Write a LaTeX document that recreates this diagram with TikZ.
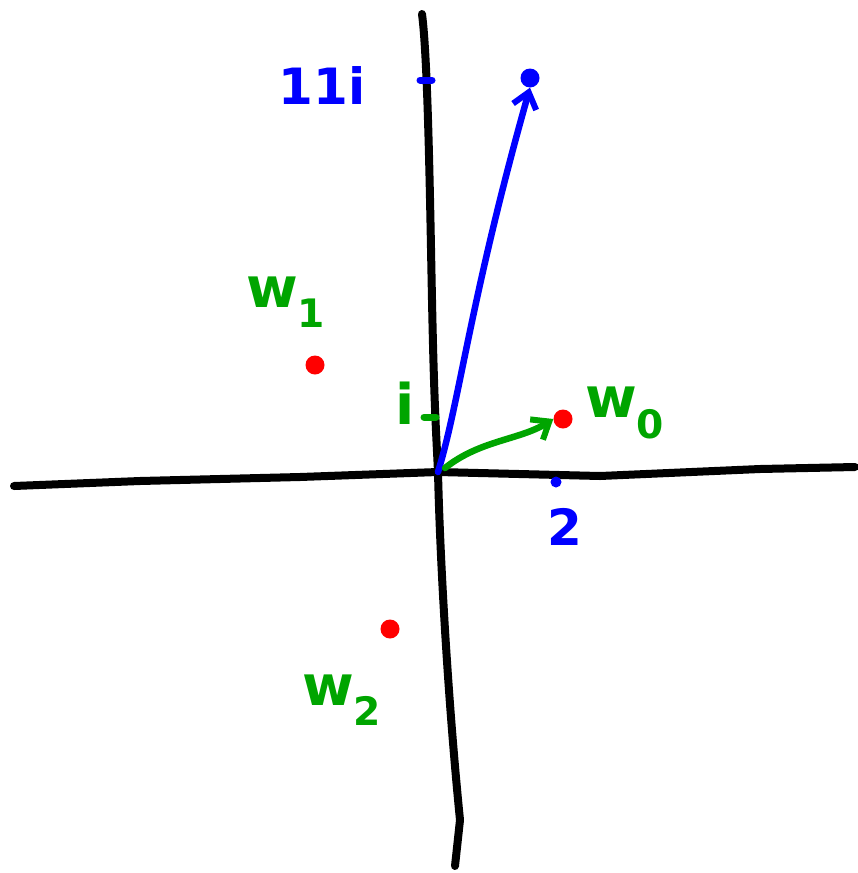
\documentclass[tikz,border=0pt]{standalone}
\usepackage{fontspec}
\setmainfont{DejaVu Sans}
\usetikzlibrary{arrows.meta}
\definecolor{pblue}{RGB}{0,0,255}
\definecolor{pgreen}{RGB}{0,165,0}
\definecolor{pred}{RGB}{255,0,0}
\tikzset{
  axis/.style={line width=8pt, black, line cap=round, line join=round},
  vec/.style={line width=6.5pt, line cap=round, -{Straight Barb[length=15pt,width=24pt,line width=6pt]}},
  pt/.style={circle, fill=pred, inner sep=0pt, minimum size=19pt},
  bluelbl/.style={text=pblue, font=\fontsize{50}{50}\selectfont\bfseries, inner sep=0pt},
  greenlbl/.style={text=pgreen, font=\fontsize{56}{56}\selectfont\bfseries, inner sep=0pt},
  tick/.style={line width=7pt, line cap=round}
}
\begin{document}
\begin{tikzpicture}[x=1pt,y=-1pt]
\useasboundingbox (0,0) rectangle (858,873);
% axes
\coordinate (ytop) at (422,14);
\coordinate (ybot) at (455,866);
\coordinate (xl) at (14,486);
\coordinate (xr) at (855,467);
\coordinate (O) at (438,472);
\draw[axis] (ytop) .. controls (428,60) and (430,200) .. (432,300) .. controls (434,400) and (436,430) .. (O) .. controls (440,560) and (448,700) .. (460,820) -- (ybot);
\draw[axis] (xl) -- (140,481) -- (300,477) -- (O) -- (600,476) -- (760,469) -- (xr);
% ticks
\coordinate (t11a) at (420,80);
\coordinate (t11b) at (432,80);
\draw[tick, pblue] (t11a) -- (t11b);
\coordinate (tia) at (424,417);
\coordinate (tib) at (436,417);
\draw[tick, pgreen] (tia) -- (tib);
\node[circle, fill=pblue, inner sep=0pt, minimum size=11pt] (t2) at (556,482) {};
% points
\node[pt] (w0) at (563,419) {};
\node[pt] (w1) at (315,365) {};
\node[pt] (w2) at (390,629) {};
\node[circle, fill=pblue, inner sep=0pt, minimum size=19pt] (z) at (530,78) {};
% vectors
\draw[vec, pblue] (O) .. controls (460,400) and (470,300) .. (z.south);
\draw[vec, pgreen] (445,468) .. controls (480,440) and (520,440) .. (w0.west);
% labels
\node[bluelbl] (l11) at (322,86) {11i};
\node[bluelbl] (l2) at (565,527) {2};
\node[greenlbl] (li) at (405,403) {i};
\node[greenlbl, anchor=west] (lw0) at (585,413) {w\textsubscript{0}};
\node[greenlbl, anchor=west] (lw1) at (246,302) {w\textsubscript{1}};
\node[greenlbl, anchor=west] (lw2) at (302,700) {w\textsubscript{2}};
\end{tikzpicture}
\end{document}
